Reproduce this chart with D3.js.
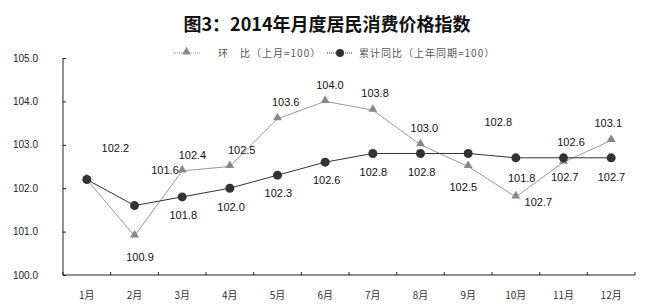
<!DOCTYPE html>
<html><head><meta charset="utf-8">
<script src="https://cdn.jsdelivr.net/npm/d3@7"></script>
<style>
html,body{margin:0;padding:0;background:#fff;}
svg{display:block;}
</style></head>
<body>
<svg id="chart" width="650" height="308"></svg>
<script>
const months = ["1月","2月","3月","4月","5月","6月","7月","8月","9月","10月","11月","12月"];
const momValues = [102.2,100.9,102.4,102.5,103.6,104.0,103.8,103.0,102.5,101.8,102.6,103.1];
const cumValues = [102.2,101.6,101.8,102.0,102.3,102.6,102.8,102.8,102.8,102.7,102.7,102.7];
const yTicks = [100,101,102,103,104,105];
const seriesNames = ["环　比（上月=100）","累计同比（上年同期=100）"];
const titleText = "图3：2014年月度居民消费价格指数";

// label placement offsets (layout only), null = no label
const momLabelOffsets = [null,[5.5,21],[10.3,-15.5],[11.9,-16.5],[8.2,-17],[4.8,-16.4],[2.2,-16.8],[3.8,-17],[-4.9,20.2],[5.9,-18.6],[7.5,-20.2],[-2.9,-17.2]];
const cumLabelOffsets = [[28.5,-31.2],[30.5,-35],[1.1,18.1],[1.2,18.5],[0.8,18.1],[1.5,17.8],[0.5,18.2],[1.2,18.2],[30.1,-31.8],[22.5,43.9],[1.2,19.7],[0.3,19.7]];

const svg = d3.select("#chart");
const L = 63, R = 635, T = 58, B = 275;

const x = d3.scaleBand().domain(months).range([L, R]);
const y = d3.scaleLinear().domain([100,105]).range([B, T]);
const cx = m => x(m) + x.bandwidth()/2;

// title
svg.append("text").attr("x", 327).attr("y", 31).attr("text-anchor","middle")
  .style("font-family","'Noto Sans CJK SC', sans-serif").style("font-size","18px").style("font-weight","bold")
  .attr("fill","#111").text(titleText);

// axes
const yAxis = d3.axisRight(y).tickValues(yTicks).tickSize(3).tickFormat("");
const gy = svg.append("g").attr("transform",`translate(${L},0)`).call(yAxis);
gy.select(".domain").attr("stroke","#222").attr("d",`M0,${T}V${B}`);
gy.selectAll(".tick line").attr("stroke","#222");

svg.append("g").selectAll("text").data(yTicks).join("text")
  .attr("x", 38).attr("y", d => y(d)).attr("dy","0.35em").attr("text-anchor","end")
  .style("font-family","'Liberation Sans', Arial, sans-serif").style("font-size","10px")
  .attr("fill","#222").text(d => d.toFixed(1));

const gx = svg.append("g").attr("transform",`translate(0,${B})`);
gx.append("line").attr("x1",L).attr("x2",R).attr("y1",0).attr("y2",0).attr("stroke","#222");
gx.selectAll("line.tk").data(months.concat(["end"])).join("line").attr("class","tk")
  .attr("x1",(d,i)=> i<months.length ? x(d) : R).attr("x2",(d,i)=> i<months.length ? x(d) : R)
  .attr("y1",0).attr("y2",-3).attr("stroke","#222");
gx.selectAll("text").data(months).join("text")
  .attr("x", d => cx(d)).attr("y", 20).attr("dy","0.35em").attr("text-anchor","middle")
  .style("font-family","'Noto Sans CJK SC', sans-serif").style("font-size","10px")
  .attr("fill","#333").text(d => d);

// lines
const line = d3.line().x(d => cx(d.m)).y(d => y(d.v));
const momData = months.map((m,i)=>({m, v: momValues[i], i}));
const cumData = months.map((m,i)=>({m, v: cumValues[i], i}));

svg.append("path").datum(momData).attr("d", line).attr("fill","none").attr("stroke","#999").attr("stroke-width",1);
svg.append("path").datum(cumData).attr("d", line).attr("fill","none").attr("stroke","#333").attr("stroke-width",1);

const tri = d3.symbol().type(d3.symbolTriangle).size(34);
svg.append("g").selectAll("path").data(momData).join("path")
  .attr("d", tri).attr("transform", d => `translate(${cx(d.m)},${y(d.v)-1})`).attr("fill","#888");
svg.append("g").selectAll("circle").data(cumData).join("circle")
  .attr("cx", d => cx(d.m)).attr("cy", d => y(d.v)).attr("r",4.5).attr("fill","#333");

// labels
function labels(data, offs){
  svg.append("g").selectAll("text").data(data.filter(d => offs[d.i])).join("text")
    .attr("x", d => cx(d.m) + offs[d.i][0]).attr("y", d => y(d.v) + offs[d.i][1])
    .attr("dy","0.35em").attr("text-anchor","middle")
    .style("font-family","'Liberation Sans', Arial, sans-serif").style("font-size","11px")
    .attr("fill","#111").text(d => d.v.toFixed(1));
}
labels(momData, momLabelOffsets);
labels(cumData, cumLabelOffsets);

// legend
const lg = svg.append("g");
const legendItems = [{x0:173, x1:200, name:seriesNames[0], type:"tri", tx:218},
                     {x0:327, x1:353, name:seriesNames[1], type:"circ", tx:359}];
const ly = 53;
legendItems.forEach(it => {
  lg.append("line").attr("x1",it.x0).attr("x2",it.x1).attr("y1",ly).attr("y2",ly)
    .attr("stroke", it.type==="tri" ? "#999" : "#333").attr("stroke-dasharray","1,1");
  if (it.type==="tri") lg.append("path").attr("d", tri).attr("transform",`translate(${(it.x0+it.x1)/2},${ly-1})`).attr("fill","#888");
  else lg.append("circle").attr("cx",(it.x0+it.x1)/2).attr("cy",ly).attr("r",4).attr("fill","#333");
  lg.append("text").attr("x",it.tx).attr("y",ly).attr("dy","0.35em")
    .style("font-family","'Noto Sans CJK SC', sans-serif").style("font-size","10px").style("letter-spacing","1px")
    .attr("fill","#555").text(it.name);
});
</script>
</body></html>
